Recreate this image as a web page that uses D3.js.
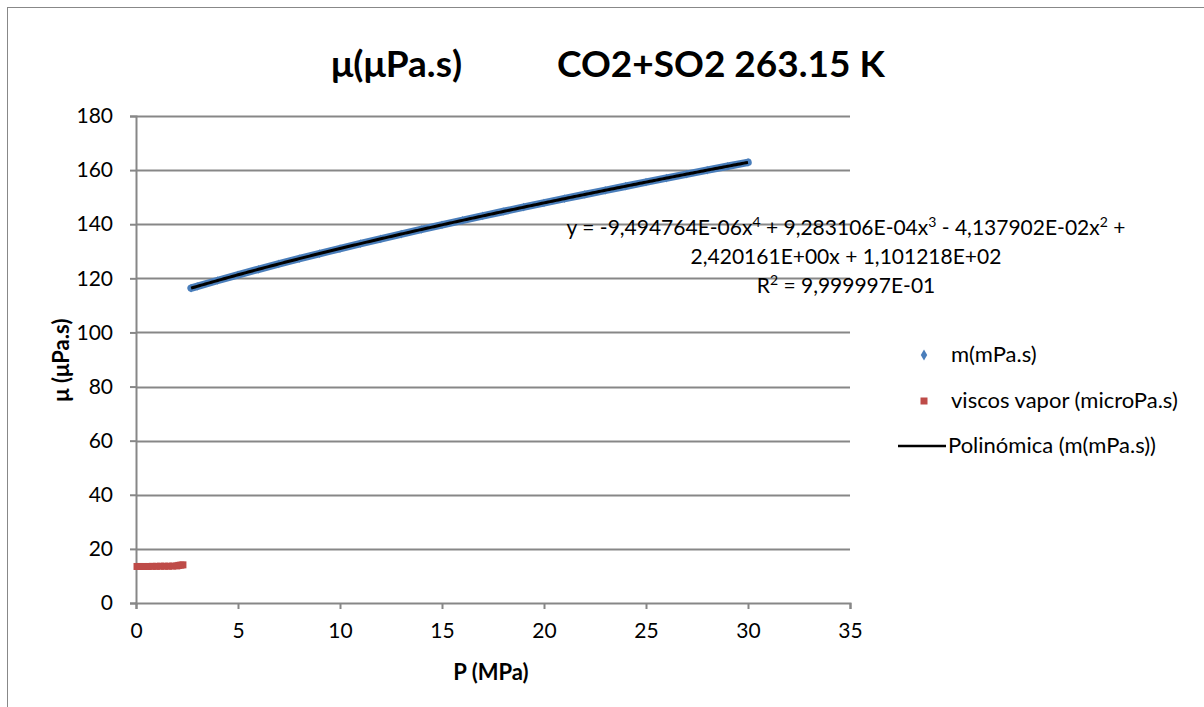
<!DOCTYPE html>
<html><head><meta charset="utf-8">
<script src="https://cdn.jsdelivr.net/npm/d3@7"></script>
<style>body{margin:0;background:#fff}svg{display:block}</style>
</head><body><svg id="c" width="1204" height="707"></svg>
<script>
// ---- data ----
const seriesMName = "m(mPa.s)";
const mP = [2.7,3,4,5,6,7,8,9,10,11,12,13,14,15,16,17,18,19,20,21,22,23,24,25,26,27,28,29,30];
const mMu = [116.37,117.03,119.20,121.30,123.34,125.33,127.27,129.17,131.02,132.83,134.61,136.36,138.08,139.77,141.43,143.07,144.70,146.30,147.88,149.45,151.00,152.53,154.05,155.56,157.05,158.53,159.99,161.43,162.85];
const seriesVName = "viscos vapor (microPa.s)";
const vP = [0.05,0.2,0.4,0.6,0.8,1.0,1.2,1.4,1.6,1.8,2.0,2.1,2.2,2.3];
const vMu = [13.5,13.5,13.5,13.5,13.55,13.55,13.6,13.6,13.6,13.65,13.7,13.9,14.0,14.1];
const trendName = "Polinómica (m(mPa.s))";
const trendCoef = [110.1218, 2.420161, -4.137902e-2, 9.283106e-4, -9.494764e-6]; // c0..c4
const xTicks = [0,5,10,15,20,25,30,35];
const yTicks = [0,20,40,60,80,100,120,140,160,180];
const eqLines = ["y = -9,494764E-06x\u2074 + 9,283106E-04x\u00B3 - 4,137902E-02x\u00B2 +","2,420161E+00x + 1,101218E+02","R\u00B2 = 9,999997E-01"];

const svg = d3.select("#c");
const font = "Lato, 'Open Sans', sans-serif";
const L=136, R=850, T=116, B=603;
const x = d3.scaleLinear().domain([0,35]).range([L,R]);
const y = d3.scaleLinear().domain([0,180]).range([B,T]);

// chart border
svg.append("rect").attr("x",7.5).attr("y",7.5).attr("width",1210).attr("height",720)
  .attr("fill","#fff").attr("stroke","#888").attr("stroke-width",1);

// title
const title = svg.append("text").attr("y",77).attr("font-family",font).attr("font-weight","bold").attr("font-size",37).attr("fill","#000");
title.append("tspan").attr("x",331).text("\u03BC(\u03BCPa.s)");
title.append("tspan").attr("x",557).text("CO2+SO2 263.15 K");

// gridlines
svg.append("g").selectAll("line").data(yTicks.filter(d=>d>0)).join("line")
  .attr("x1",L).attr("x2",R).attr("y1",d=>Math.round(y(d))+0.5).attr("y2",d=>Math.round(y(d))+0.5)
  .attr("stroke","#878787").attr("stroke-width",2);

// axes
const gx = svg.append("g").attr("transform",`translate(0,${B})`)
  .call(d3.axisBottom(x).tickValues(xTicks).tickSize(6).tickPadding(14).tickFormat(d3.format("d")));
const gy = svg.append("g").attr("transform",`translate(${L},0)`)
  .call(d3.axisLeft(y).tickValues(yTicks).tickSize(6).tickPadding(17).tickFormat(d3.format("d")));
[gx,gy].forEach(g=>{
  g.select(".domain").attr("stroke","#878787").attr("stroke-width",2);
  g.selectAll(".tick line").attr("stroke","#878787").attr("stroke-width",2);
  g.selectAll(".tick text").attr("font-family",font).attr("font-size",21).attr("fill","#000");
});

// axis titles
svg.append("text").attr("x",491).attr("y",680).attr("text-anchor","middle")
  .attr("font-family",font).attr("font-weight","bold").attr("font-size",22).text("P (MPa)");
svg.append("text").attr("transform","translate(69,360) rotate(-90)").attr("text-anchor","middle")
  .attr("font-family",font).attr("font-weight","bold").attr("font-size",22).text("\u03BC (\u03BCPa.s)");

// series m: blue markers (dense) + trendline
const mData = mP.map((p,i)=>[p,mMu[i]]);
svg.append("path").datum(mData).attr("fill","none").attr("stroke","#4a7ebb").attr("stroke-width",7.5)
  .attr("stroke-linecap","round").attr("stroke-linejoin","round")
  .attr("d",d3.line().x(d=>x(d[0])).y(d=>y(d[1])).curve(d3.curveMonotoneX));
svg.append("g").selectAll("path").data(mData).join("path")
  .attr("d",d3.symbol(d3.symbolDiamond,22)).attr("fill","#4a7ebb")
  .attr("transform",d=>`translate(${x(d[0])},${y(d[1])})`);

// red series
const vData = vP.map((p,i)=>[p,vMu[i]]);
svg.append("g").selectAll("rect").data(vData).join("rect")
  .attr("x",d=>x(d[0])-3.5).attr("y",d=>y(d[1])-3.5).attr("width",7).attr("height",7).attr("fill","#be4b48");
svg.append("path").datum(vData).attr("fill","none").attr("stroke","#be4b48").attr("stroke-width",6)
  .attr("d",d3.line().x(d=>x(d[0])).y(d=>y(d[1])));

// trendline from coefficients
const poly = p=>trendCoef.reduce((s,c,i)=>s+c*Math.pow(p,i),0);
const tx = d3.range(mP[0], mP[mP.length-1]+0.001, 0.1);
svg.append("path").datum(tx).attr("fill","none").attr("stroke","#000").attr("stroke-width",3)
  .attr("d",d3.line().x(p=>x(p)).y(p=>y(poly(p))));

// equation (superscripts as raised tspans)
const supMap = {"\u2074":"4","\u00B3":"3","\u00B2":"2"};
eqLines.forEach((line,i)=>{
  const t = svg.append("text").attr("x",846).attr("y",235+i*29).attr("text-anchor","middle")
    .attr("font-family",font).attr("font-size",21).attr("fill","#000");
  const parts = line.split(/([\u2074\u00B3\u00B2])/).filter(s=>s.length);
  parts.forEach(s=>{
    if (supMap[s]) t.append("tspan").attr("font-size",14).attr("dy",-8).text(supMap[s]);
    else {
      const sp = t.append("tspan").text(s);
      if (t.selectAll("tspan").size()>1) sp.attr("dy",8);
    }
  });
});

// legend
const lg = svg.append("g").attr("font-family",font).attr("font-size",22).attr("fill","#000");
lg.append("path").attr("d",d3.symbol(d3.symbolDiamond,36)).attr("fill","#4a7ebb").attr("transform","translate(924,355)");
lg.append("text").attr("x",951).attr("y",362).text(seriesMName);
lg.append("rect").attr("x",920.5).attr("y",397.5).attr("width",7).attr("height",7).attr("fill","#be4b48");
lg.append("text").attr("x",951).attr("y",408).text(seriesVName);
lg.append("line").attr("x1",898).attr("x2",946).attr("y1",446).attr("y2",446).attr("stroke","#000").attr("stroke-width",2.5);
lg.append("text").attr("x",948).attr("y",453).text(trendName);
</script></body></html>
